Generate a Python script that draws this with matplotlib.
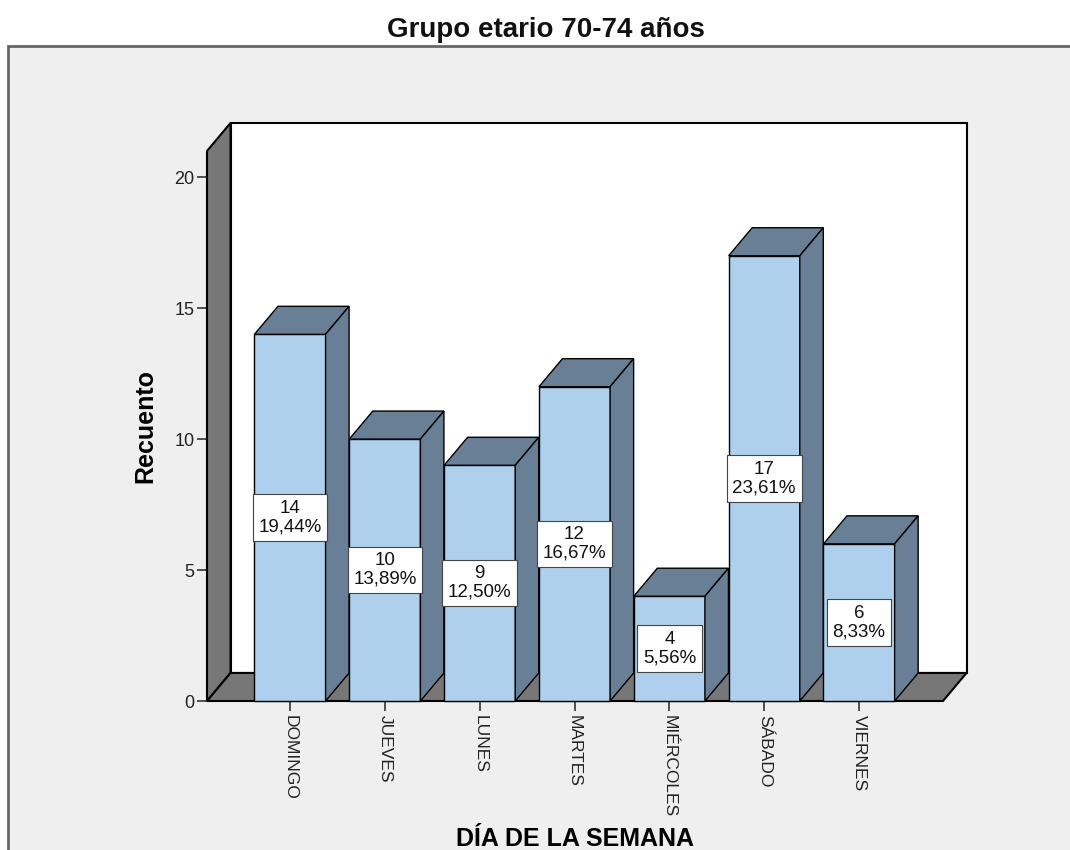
import matplotlib
matplotlib.use("Agg")
import matplotlib.pyplot as plt
from matplotlib.patches import Rectangle, Polygon

plt.rcParams['font.family'] = ['Liberation Sans', 'DejaVu Sans']

# Recuento por día de la semana, grupo etario 70-74 años
dias = ['DOMINGO', 'JUEVES', 'LUNES', 'MARTES', 'MIÉRCOLES', 'SÁBADO', 'VIERNES']
recuento = [14, 10, 9, 12, 4, 17, 6]
y_ticks = [0, 5, 10, 15, 20]

total = sum(recuento)

frente = '#AED0ED'
lado = '#687F95'
pared = '#777777'

fig = plt.figure(figsize=(10.7, 8.5), dpi=100)
fig.patch.set_facecolor('white')

# marco gris del área del gráfico
marco = Rectangle((0.0075, -0.05), 1.05, 0.9959, transform=fig.transFigure,
                  facecolor='#EFEFEF', edgecolor='#666666', linewidth=2, zorder=-1)
fig.add_artist(marco)

fig.text(0.51, 0.957, 'Grupo etario 70-74 años', ha='center', va='baseline',
         fontsize=20, fontweight='bold', color='#111111')

ax = fig.add_axes([207 / 1070, 149 / 850, 736 / 1070, 550 / 850])
ax.patch.set_visible(False)
for s in ax.spines.values():
    s.set_visible(False)

x0, x1 = -0.875, 6.885
ymax = 21
ax.set_xlim(x0, x1)
ax.set_ylim(0, ymax)

# desplazamiento de profundidad (efecto 3D)
dx, dy = 0.248, 1.07
w = 0.75

# pared del fondo
ax.add_patch(Rectangle((x0 + dx, dy), x1 - x0, ymax, facecolor='white',
                       edgecolor='black', linewidth=1.5, clip_on=False, zorder=1))
# pared lateral izquierda
ax.add_patch(Polygon([(x0, 0), (x0, ymax), (x0 + dx, ymax + dy), (x0 + dx, dy)],
                     closed=True, facecolor=pared, edgecolor='black',
                     linewidth=1.5, clip_on=False, zorder=2))
# piso
ax.add_patch(Polygon([(x0, 0), (x1, 0), (x1 + dx, dy), (x0 + dx, dy)],
                     closed=True, facecolor=pared, edgecolor='black',
                     linewidth=1.5, clip_on=False, zorder=2))

for i, v in enumerate(recuento):
    xl, xr = i - w / 2, i + w / 2
    ax.add_patch(Rectangle((xl, 0), w, v, facecolor=frente, edgecolor='black',
                           linewidth=1.0, clip_on=False, zorder=3))
    ax.add_patch(Polygon([(xl, v), (xr, v), (xr + dx, v + dy), (xl + dx, v + dy)],
                         closed=True, facecolor=lado, edgecolor='black',
                         linewidth=1.0, clip_on=False, zorder=3))
    ax.add_patch(Polygon([(xr, 0), (xr + dx, dy), (xr + dx, v + dy), (xr, v)],
                         closed=True, facecolor=lado, edgecolor='black',
                         linewidth=1.0, clip_on=False, zorder=3))
    pct = f"{v / total * 100:.2f}".replace('.', ',') + '%'
    ax.text(i, v / 2, f"{v}\n{pct}", ha='center', va='center', fontsize=13.5,
            linespacing=1.1, color='#111111', zorder=5,
            bbox=dict(boxstyle='square,pad=0.3', facecolor='white',
                      edgecolor='#444444', linewidth=0.8))

ax.set_yticks(y_ticks)
ax.set_yticklabels([str(t) for t in y_ticks])
ax.set_xticks(range(len(dias)))
ax.set_xticklabels(dias)
ax.tick_params(axis='y', length=7, width=1.2, color='#333333', labelsize=13,
               pad=2, labelcolor='#222222')
ax.tick_params(axis='x', length=7, width=1.2, color='#333333', labelsize=12.5,
               pad=3, labelrotation=-90, labelcolor='#222222')

ax.set_ylabel('Recuento', fontsize=18, fontweight='bold')
ax.yaxis.set_label_coords(-0.068, 0.5)
ax.set_xlabel('DÍA DE LA SEMANA', fontsize=18, fontweight='bold')
ax.xaxis.set_label_coords(0.5, -0.229)

fig.savefig('out.png', dpi=100)
